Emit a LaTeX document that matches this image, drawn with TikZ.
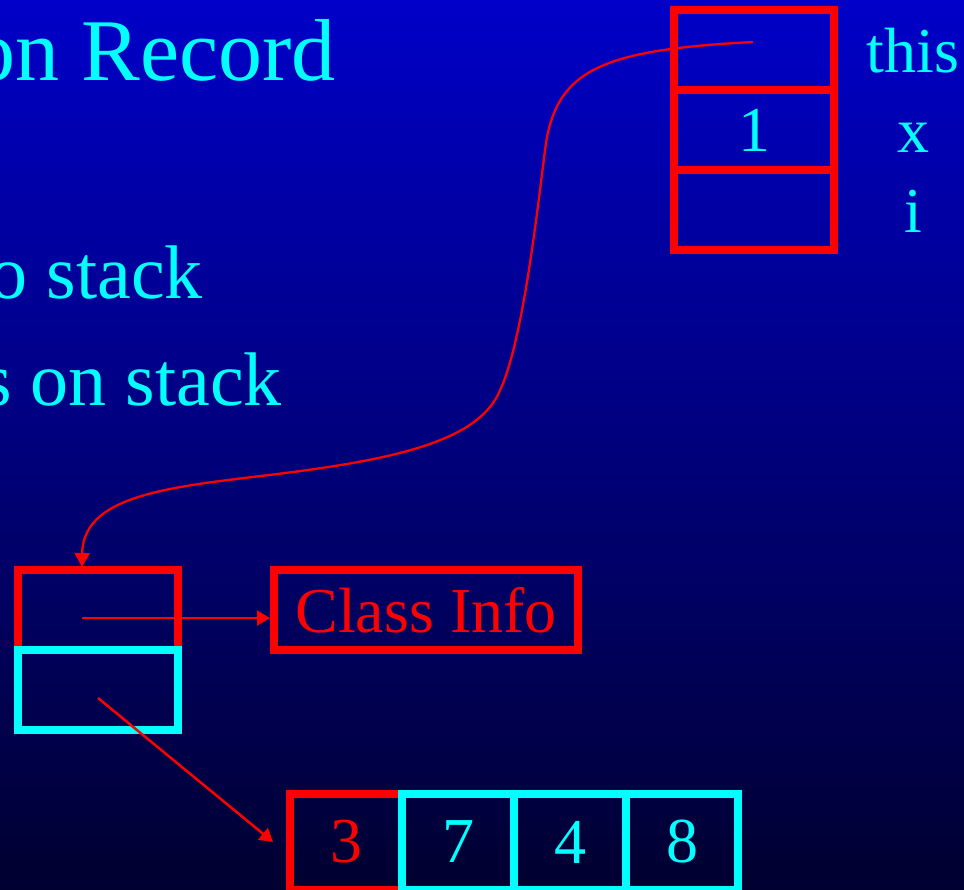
\documentclass[tikz,border=0pt]{standalone}
\usepackage{fontspec}
\setmainfont{Liberation Serif}
\usetikzlibrary{arrows.meta,calc}
\definecolor{bgtop}{RGB}{0,0,200}
\definecolor{bgbot}{RGB}{0,0,48}
\definecolor{myred}{RGB}{255,0,0}
\definecolor{mycyan}{RGB}{0,255,255}
\tikzset{
  cellbox/.style={draw=#1, line width=8pt, rectangle, inner sep=0pt},
  stackcell/.style={cellbox=myred, minimum width=160pt, minimum height=80pt},
  heapcell/.style={cellbox=#1, minimum width=160pt, minimum height=80pt},
  arrcell/.style={cellbox=#1, minimum width=112pt, minimum height=96pt},
  bigtxt/.style={font=\fontsize{64}{77}\selectfont},
  lbl/.style={text=mycyan, bigtxt, inner sep=0pt},
  conn/.style={draw=myred, line width=2.5pt, -{Triangle[length=13pt,width=15pt]}},
}
\begin{document}
\begin{tikzpicture}[x=1pt,y=-1pt]
\useasboundingbox (0,0) rectangle (964,890);
\clip (0,0) rectangle (964,890);
\shade[top color=bgtop, bottom color=bgbot] (0,0) rectangle (964,890);

% partial slide text
\node[anchor=base east, inner sep=0pt, text=mycyan, font=\fontsize{88}{100}\selectfont] (title) at (336,81) {on Record};
\node[anchor=base east, inner sep=0pt, text=mycyan, font=\fontsize{76}{90}\selectfont] (line1) at (203,299) {o stack};
\node[anchor=base east, inner sep=0pt, text=mycyan, font=\fontsize{76}{90}\selectfont] (line2) at (282,406) {s on stack};

% activation record on the stack
\node[stackcell] (s1) at (754,50) {};
\node[stackcell, text=mycyan, bigtxt] (s2) at (754,130) {1};
\node[stackcell] (s3) at (754,210) {};
\node[lbl, anchor=base] (lthis) at (913,73) {this};
\node[lbl, anchor=base] (lx) at (913,153) {x};
\node[lbl, anchor=base] (li) at (913,233) {i};

% object on the heap
\node[heapcell=myred] (hobj) at (98,610) {};
\node[heapcell=mycyan] (hdata) at (98,690) {};
\node[cellbox=myred, minimum width=304pt, minimum height=80pt, text=myred, bigtxt] (cinfo) at (426,610) {Class Info};

% array
\node[arrcell=myred, text=myred, bigtxt] (c1) at (346,842) {3};
\node[arrcell=mycyan, text=mycyan, bigtxt] (c2) at (458,842) {7};
\node[arrcell=mycyan, text=mycyan, bigtxt] (c3) at (570,842) {4};
\node[arrcell=mycyan, text=mycyan, bigtxt] (c4) at (682,842) {8};

% connectors
\coordinate (thisptr) at (753,42);
\coordinate (objtop) at (82,567);
\draw[draw=myred, line width=2.3pt, -{Triangle[length=14pt,width=15pt]}]
  (thisptr) .. controls (600,50) and (555,70) .. (545,150)
            .. controls (535,230) and (520,360) .. (495,400)
            .. controls (470,440) and (400,458) .. (293,472)
            .. controls (186,486) and (83,490) .. (objtop);

\coordinate (clsptr) at (82,618);
\draw[conn] (clsptr) -- (clsptr -| cinfo.west);

\coordinate (arrptr) at (98,698);
\draw[conn] (arrptr) -- ($(c1.west)+(-13,0)$);
\end{tikzpicture}
\end{document}
